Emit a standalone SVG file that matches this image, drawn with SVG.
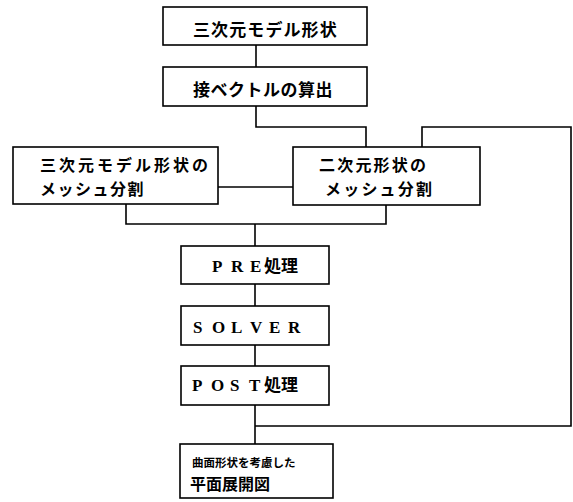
<svg xmlns="http://www.w3.org/2000/svg" width="573" height="502" viewBox="0 0 573 502">
<style>
.box{fill:#fff;stroke:#000;stroke-width:1.6}
.ln{fill:none;stroke:#000;stroke-width:1.6}
.jp{font-family:"Noto Sans CJK JP","Noto Sans CJK SC",sans-serif;font-weight:bold;fill:#000}
.mono{font-family:"Liberation Serif",serif;font-weight:bold;font-size:17px;fill:#000}
</style>
<rect width="573" height="502" fill="#fff"/>
<g id="connectors">
<path class="ln" d="M256,45 V67"/>
<path class="ln" d="M256,106 V127 H366 V147"/>
<path class="ln" d="M218,187 H293"/>
<path class="ln" d="M126,204 V224 H386 V205"/>
<path class="ln" d="M255,224 V246"/>
<path class="ln" d="M255,284 V306"/>
<path class="ln" d="M255,345 V366"/>
<path class="ln" d="M255,405 V444"/>
<path class="ln" d="M255,426 H571 V127 H422 V147"/>
</g>
<g id="n1">
<rect class="box" x="163" y="7" width="204" height="38"/>
<text class="jp" x="193" y="36" font-size="17" letter-spacing="1.1">三次元モデル形状</text>
</g>
<g id="n2">
<rect class="box" x="163" y="67" width="204" height="39"/>
<text class="jp" x="193" y="96" font-size="17" letter-spacing="0.5">接ベクトルの算出</text>
</g>
<g id="n3">
<rect class="box" x="13" y="147" width="205" height="57"/>
<text class="jp" x="40" y="171" font-size="16" letter-spacing="3">三次元モデル形状の</text>
<text class="jp" x="40" y="195" font-size="16" letter-spacing="1.5">メッシュ分割</text>
</g>
<g id="n4">
<rect class="box" x="293" y="147" width="187" height="58"/>
<text class="jp" x="319" y="171" font-size="16" letter-spacing="2.2">二次元形状の</text>
<text class="jp" x="325" y="195" font-size="16" letter-spacing="2.2">メッシュ分割</text>
</g>
<g id="n5">
<rect class="box" x="181" y="246" width="148" height="38"/>
<text class="mono" y="272"><tspan x="212">P</tspan><tspan x="231">R</tspan><tspan x="250">E</tspan></text>
<text class="jp" x="264" y="272" font-size="17">処理</text>
</g>
<g id="n6">
<rect class="box" x="181" y="306" width="148" height="39"/>
<text class="mono" y="333"><tspan x="193">S</tspan><tspan x="212">O</tspan><tspan x="231">L</tspan><tspan x="250">V</tspan><tspan x="269">E</tspan><tspan x="288">R</tspan></text>
</g>
<g id="n7">
<rect class="box" x="181" y="366" width="148" height="39"/>
<text class="mono" y="391"><tspan x="192">P</tspan><tspan x="211">O</tspan><tspan x="230">S</tspan><tspan x="249">T</tspan></text>
<text class="jp" x="264" y="391" font-size="17">処理</text>
</g>
<g id="n8">
<rect class="box" x="180" y="444" width="153" height="54"/>
<text class="jp" x="192" y="467" font-size="11.5">曲面形状を考慮した</text>
<text class="jp" x="190" y="490" font-size="16">平面展開図</text>
</g>
</svg>
